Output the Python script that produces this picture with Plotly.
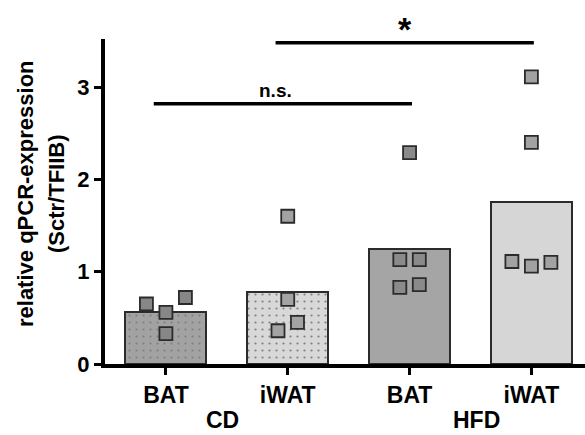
import plotly.graph_objects as go

# Groups and tissues
tissues = ["BAT", "iWAT", "BAT", "iWAT"]
diets = ["CD", "HFD"]

# Individual values per group (relative qPCR expression, Sctr/TFIIB)
cd_bat = [0.65, 0.56, 0.72, 0.33]
cd_iwat = [1.60, 0.70, 0.36, 0.45]
hfd_bat = [1.13, 1.13, 0.83, 0.86, 2.29]
hfd_iwat = [3.11, 2.40, 1.11, 1.06, 1.10]

# Horizontal jitter of the points inside each bar (category units)
cd_bat_jit = [-0.16, 0.0, 0.16, 0.0]
cd_iwat_jit = [0.0, 0.0, -0.08, 0.08]
hfd_bat_jit = [-0.08, 0.08, -0.08, 0.08, 0.0]
hfd_iwat_jit = [0.0, 0.0, -0.16, 0.0, 0.16]

groups = [cd_bat, cd_iwat, hfd_bat, hfd_iwat]
jitters = [cd_bat_jit, cd_iwat_jit, hfd_bat_jit, hfd_iwat_jit]
means = [sum(g) / len(g) for g in groups]

# Significance comparisons: (group a, group b, bar height, label)
comparisons = [(0, 2, 2.82, "n.s."), (1, 3, 3.48, "*")]

bar_fill = ["#a2a2a2", "#d8d8d8", "#a5a5a5", "#d6d6d6"]
dot_fill = ["#878787", "#a3a3a3", "#8a8a8a", "#a2a2a2"]
patterned = [True, True, False, False]

FONT = "Liberation Sans, Arial, sans-serif"
pos = list(range(len(tissues)))

fig = go.Figure()
for i, (g, j) in enumerate(zip(groups, jitters)):
    fig.add_trace(go.Bar(
        x=[pos[i]], y=[means[i]], width=0.665,
        marker=dict(
            color=bar_fill[i],
            line=dict(color="#2b2b2b", width=2),
            pattern=dict(shape="." if patterned[i] else "",
                         fgcolor="#808080", bgcolor=bar_fill[i],
                         size=7, solidity=0.08, fillmode="replace"),
        ),
        showlegend=False, hoverinfo="skip",
    ))
for i, (g, j) in enumerate(zip(groups, jitters)):
    fig.add_trace(go.Scatter(
        x=[pos[i] + d for d in j], y=g, mode="markers",
        marker=dict(symbol="square", size=13, color=dot_fill[i],
                    line=dict(color="#2b2b2b", width=1.8)),
        showlegend=False, hoverinfo="skip",
    ))

# Significance bars
for a, b, h, lab in comparisons:
    x0, x1 = pos[a] - 0.1, pos[b] + 0.02
    fig.add_shape(type="line", x0=x0, x1=x1, y0=h, y1=h, xref="x", yref="y",
                  line=dict(color="black", width=3.5))
    big = lab == "*"
    fig.add_annotation(x=(x0 + x1) / 2 - (0 if big else 0.06), y=h, xref="x", yref="y",
                       text="<b>%s</b>" % lab, showarrow=False, yanchor="bottom",
                       yshift=-7 if big else 1,
                       font=dict(family=FONT, size=34 if big else 19, color="black"))

# Diet group labels under the tissue labels
for k, d in enumerate(diets):
    fig.add_annotation(x=(pos[2 * k] + pos[2 * k + 1]) / 2, y=0,
                       xref="x", yref="paper", text="<b>%s</b>" % d, showarrow=False,
                       yanchor="middle", yshift=-56, xshift=(-4, 6)[k],
                       font=dict(family=FONT, size=23, color="black"))

# Two-line y-axis title
for txt, xs in (("relative qPCR-expression", -80), ("(Sctr/TFIIB)", -49)):
    fig.add_annotation(x=0, y=0.523, xref="paper", yref="paper", text="<b>%s</b>" % txt,
                       showarrow=False, textangle=-90, xshift=xs,
                       xanchor="center", yanchor="middle",
                       font=dict(family=FONT, size=22, color="black"))

fig.update_layout(
    width=585, height=435,
    margin=dict(l=105, r=0, t=39, b=71),
    paper_bgcolor="white", plot_bgcolor="white",
    barmode="overlay", bargap=0,
    font=dict(family=FONT, color="black"),
    xaxis=dict(range=[-0.5, 3.44], tickmode="array", tickvals=pos,
               ticktext=["<b>%s</b>" % t for t in tissues],
               showline=True, linecolor="black", linewidth=4,
               ticks="outside", ticklen=7, tickwidth=3, tickcolor="black",
               showgrid=False, zeroline=False,
               tickfont=dict(family=FONT, size=23, color="black")),
    yaxis=dict(range=[0, 3.52], tickvals=[0, 1, 2, 3],
               ticktext=["<b>0</b>", "<b>1</b>", "<b>2</b>", "<b>3</b>"],
               showline=True, linecolor="black", linewidth=4,
               ticks="outside", ticklen=7, tickwidth=3, tickcolor="black",
               showgrid=False, zeroline=False,
               tickfont=dict(family=FONT, size=22, color="black")),
)

fig.write_html("out.html")
